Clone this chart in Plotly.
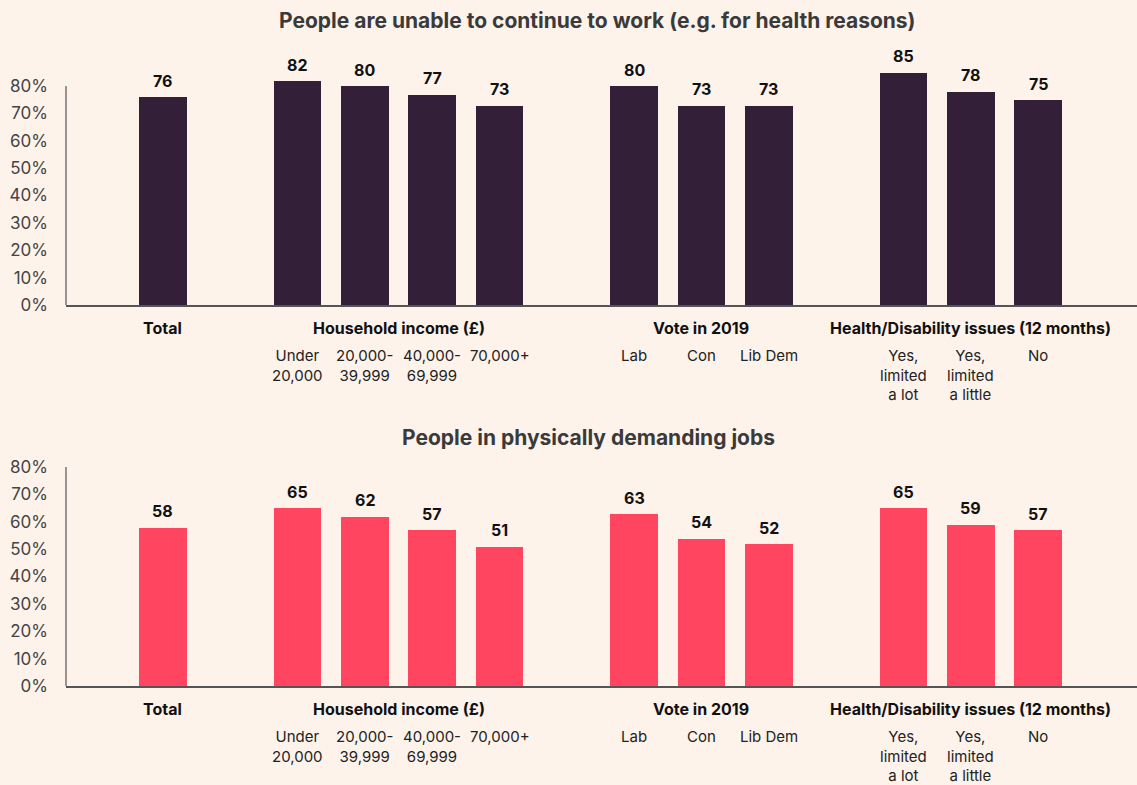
import plotly.graph_objects as go

# Survey breakdowns
categories = ["Total",
              "Under<br>20,000", "20,000-<br>39,999", "40,000-<br>69,999", "70,000+",
              "Lab", "Con", "Lib Dem",
              "Yes,<br>limited<br>a lot", "Yes,<br>limited<br>a little", "No"]
positions = [0, 2, 3, 4, 5, 7, 8, 9, 11, 12, 13]
show_cat_label = [False, True, True, True, True, True, True, True, True, True, True]

groups = ["Total", "Household income (£)", "Vote in 2019", "Health/Disability issues (12 months)"]
group_centers = [0, 3.5, 8, 12]

unable_to_work = [76, 82, 80, 77, 73, 80, 73, 73, 85, 78, 75]
physical_jobs = [58, 65, 62, 57, 51, 63, 54, 52, 65, 59, 57]

titles = ["People are unable to continue to work (e.g. for health reasons)",
          "People in physically demanding jobs"]
y_ticks = [0, 10, 20, 30, 40, 50, 60, 70, 80]
y_tick_text = [f"{t}%" for t in y_ticks]

W, H = 1137, 785
L = 66
BG = "#fdf3eb"
DARK = "#331f38"
RED = "#ff455f"
FONT = "Inter"

def py(pix):
    """Convert a pixel row (from top) into paper coordinates."""
    return 1 - pix / H

def px(pix):
    """Convert a pixel column into paper coordinates."""
    return (pix - L) / (W - L)

# pixel rows of the 80% and 0% lines for each panel
panels = [(86, 305), (467, 686)]
Y_MAX = 90

fig = go.Figure()
y_domains = []

for i, (vals, color, (top_px, bot_px)) in enumerate(zip([unable_to_work, physical_jobs], [DARK, RED], panels)):
    xa = "x" if i == 0 else "x2"
    ya = "y" if i == 0 else "y2"
    scale = (bot_px - top_px) / 80.0
    y_domains.append([py(bot_px), py(bot_px - Y_MAX * scale)])
    fig.add_trace(go.Bar(
        x=positions, y=vals, width=0.71, marker_color=color, marker_line_width=0,
        cliponaxis=False, xaxis=xa, yaxis=ya, showlegend=False, hoverinfo="skip"))
    for p, v in zip(positions, vals):
        fig.add_annotation(x=p, y=v, xref=xa, yref=ya, text=f"<b>{v}</b>",
                           showarrow=False, yanchor="bottom", yshift=4,
                           font=dict(family=FONT, size=16, color="#111111"))
    # vertical axis line only spans 0-80%
    fig.add_shape(type="line", xref=f"{xa} domain", yref=ya, x0=0, x1=0, y0=0, y1=80,
                  line=dict(color="#555555", width=1.2))
    # group headings under the axis
    for g, c in zip(groups, group_centers):
        fig.add_annotation(x=c, y=py(bot_px + 23), xref=xa, yref="paper",
                           text=f"<b>{g}</b>", showarrow=False, yanchor="middle",
                           font=dict(family=FONT, size=16, color="#111111"))
    # category labels
    for p, lab, show in zip(positions, categories, show_cat_label):
        if show:
            fig.add_annotation(x=p, y=py(bot_px + 40), xref=xa, yref="paper",
                               text=lab, showarrow=False, yanchor="top",
                               align="center", borderpad=0,
                               font=dict(family=FONT, size=15, color="#222222"))
    # panel title
    title_py = 21 if i == 0 else 437
    title_px = 597 if i == 0 else 588
    fig.add_annotation(x=px(title_px), y=py(title_py), xref="paper", yref="paper",
                       text=f"<b>{titles[i]}</b>", showarrow=False, yanchor="middle",
                       font=dict(family=FONT, size=21, color="#3a3a3a"))

x_range = [-1.44, 14.47]
axis_common = dict(range=x_range, showgrid=False, zeroline=False, showticklabels=False,
                   showline=True, linecolor="#555555", linewidth=1.5, ticks="",
                   fixedrange=True, automargin=False)
y_common = dict(range=[0, Y_MAX], tickvals=y_ticks, ticktext=y_tick_text, showgrid=False,
                zeroline=False, showline=False, ticks="", ticklabelstandoff=17,
                tickfont=dict(family=FONT, size=17, color="#444444"),
                fixedrange=True, automargin=False)

fig.update_layout(
    width=W, height=H,
    margin=dict(l=L, r=0, t=0, b=0, pad=0, autoexpand=False),
    paper_bgcolor=BG, plot_bgcolor=BG,
    bargap=0,
    xaxis=dict(domain=[0, 1], anchor="y", **axis_common),
    yaxis=dict(domain=y_domains[0], anchor="x", **y_common),
    xaxis2=dict(domain=[0, 1], anchor="y2", **axis_common),
    yaxis2=dict(domain=y_domains[1], anchor="x2", **y_common),
)

fig.write_html("out.html")
